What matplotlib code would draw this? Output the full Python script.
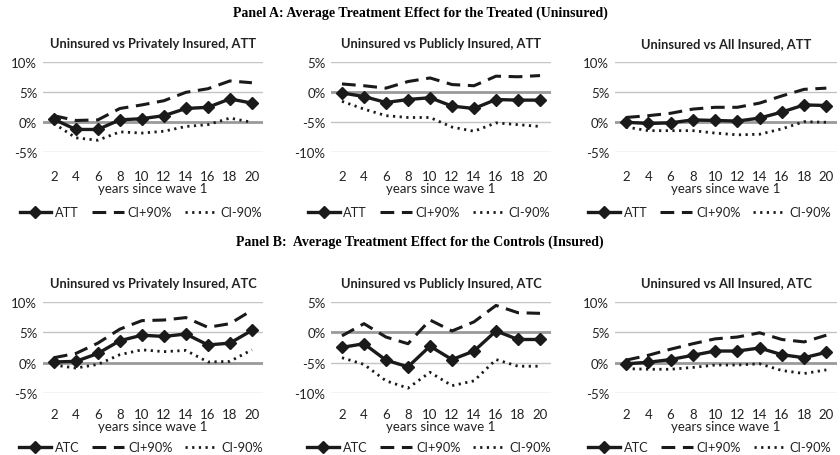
import matplotlib.pyplot as plt
import numpy as np

years = [2, 4, 6, 8, 10, 12, 14, 16, 18, 20]

# Panel A (ATT), values in %
priv_att = [0.5, -1.2, -1.2, 0.4, 0.6, 1.1, 2.3, 2.5, 3.9, 3.2]
priv_att_hi = [1.1, 0.3, 0.4, 2.3, 2.9, 3.6, 5.0, 5.6, 6.9, 6.6]
priv_att_lo = [-0.2, -2.6, -3.0, -1.6, -1.8, -1.5, -0.7, -0.4, 0.7, 0.0]

pub_att = [-0.1, -0.7, -1.7, -1.2, -0.9, -2.3, -2.7, -1.2, -1.3, -1.3]
pub_att_hi = [1.4, 1.1, 0.7, 1.8, 2.4, 1.3, 1.1, 2.7, 2.6, 2.8]
pub_att_lo = [-1.5, -2.8, -3.9, -4.2, -4.2, -5.8, -6.5, -5.1, -5.4, -5.7]

all_att = [0.0, -0.2, -0.1, 0.4, 0.3, 0.2, 0.7, 1.7, 2.9, 2.8]
all_att_hi = [0.8, 1.1, 1.5, 2.2, 2.5, 2.5, 3.2, 4.4, 5.5, 5.7]
all_att_lo = [-0.8, -1.4, -1.4, -1.4, -1.8, -2.1, -2.0, -1.1, 0.1, 0.0]

# Panel B (ATC)
priv_atc = [0.1, 0.2, 1.5, 3.6, 4.5, 4.3, 4.7, 2.9, 3.2, 5.3]
priv_atc_hi = [0.8, 1.5, 3.2, 5.5, 6.9, 7.0, 7.4, 5.8, 6.4, 8.6]
priv_atc_lo = [-0.4, -0.9, -0.3, 1.3, 2.1, 1.8, 2.0, 0.1, 0.2, 2.1]

pub_atc = [-2.5, -1.9, -4.6, -5.7, -2.3, -4.5, -3.1, 0.2, -1.2, -1.2]
pub_atc_hi = [-0.6, 1.4, -0.8, -1.9, 2.0, 0.2, 1.7, 4.4, 3.2, 3.1]
pub_atc_lo = [-4.2, -5.3, -8.0, -9.2, -6.6, -8.8, -8.0, -4.5, -5.6, -5.6]

all_atc = [-0.2, 0.05, 0.5, 1.2, 1.9, 1.9, 2.4, 1.3, 0.8, 1.7]
all_atc_hi = [0.4, 1.2, 2.2, 3.1, 3.9, 4.2, 4.9, 3.8, 3.4, 4.5]
all_atc_lo = [-1.0, -1.1, -1.1, -0.8, -0.4, -0.4, -0.2, -1.3, -1.8, -1.2]

titles_a = ["Uninsured vs Privately Insured, ATT", "Uninsured vs Publicly Insured, ATT",
            "Uninsured vs All Insured, ATT"]
titles_b = ["Uninsured vs Privately Insured, ATC", "Uninsured vs Publicly Insured, ATC",
            "Uninsured vs All Insured, ATC"]

sans = ["Lato", "DejaVu Sans"]
serif = ["Liberation Serif", "DejaVu Serif"]

fig = plt.figure(figsize=(8.4, 4.56), dpi=100)

lefts = [0.051, 0.394, 0.732]
widths = [0.262, 0.262, 0.265]
leg_x = [0.445, 0.445, 0.425]


def draw(ax, est, hi, lo, title, name, ylo, yhi, xpad, legx, legy):
    for v in range(ylo, yhi + 1, 5):
        if v == 0:
            ax.axhline(0, color="#9a9a9a", lw=2.0, zorder=1)
        else:
            ax.axhline(v, color="#c4c4c4", lw=1.0, zorder=1)
    ax.plot(years, est, color="#1a1a1a", lw=2.4, marker="D", ms=6, label=name, zorder=3)
    ax.plot(years, hi, color="#1a1a1a", lw=2.2, ls=(0, (4.5, 2.5)), label="CI+90%", zorder=2)
    ax.plot(years, lo, color="#1a1a1a", lw=2.0, ls=(0, (0.8, 1.6)), label="CI-90%", zorder=2)
    ax.set_xlim(1, 21)
    ax.set_ylim(ylo, yhi)
    ax.set_xticks(years)
    ax.set_yticks(range(ylo, yhi + 1, 5))
    ax.set_yticklabels([f"{v}%" for v in range(ylo, yhi + 1, 5)])
    for s in ax.spines.values():
        s.set_visible(False)
    ax.tick_params(length=0, labelsize=9.5, colors="#222222")
    ax.tick_params(axis="x", pad=xpad)
    ax.tick_params(axis="y", pad=4)
    for t in ax.get_xticklabels() + ax.get_yticklabels():
        t.set_family(sans)
    ax.set_xlabel("years since wave 1", family=sans, fontsize=9.5, labelpad=0, color="#222222")
    ax.set_title(title, family=sans, fontweight="bold", fontsize=9.3, pad=11, color="#222222")
    leg = ax.legend(loc="upper center", bbox_to_anchor=(legx, legy), ncol=3, frameon=False,
                    handlelength=2.5, columnspacing=1.0, handletextpad=0.3,
                    borderaxespad=0, borderpad=0,
                    prop={"family": sans, "size": 9.2})
    for t in leg.get_texts():
        t.set_color("#222222")


panel_a = [(priv_att, priv_att_hi, priv_att_lo, -5, 10),
           (pub_att, pub_att_hi, pub_att_lo, -10, 5),
           (all_att, all_att_hi, all_att_lo, -5, 10)]
panel_b = [(priv_atc, priv_atc_hi, priv_atc_lo, -5, 10),
           (pub_atc, pub_atc_hi, pub_atc_lo, -10, 5),
           (all_atc, all_atc_hi, all_atc_lo, -5, 10)]

for i in range(3):
    e, h, l, a, b = panel_a[i]
    ax = fig.add_axes([lefts[i], 0.664, widths[i], 0.197])
    draw(ax, e, h, l, titles_a[i], "ATT", a, b, 13, leg_x[i], -0.60)
    e, h, l, a, b = panel_b[i]
    ax = fig.add_axes([lefts[i], 0.136, widths[i], 0.200])
    draw(ax, e, h, l, titles_b[i], "ATC", a, b, 11, leg_x[i], -0.53)

fig.text(0.5, 0.972, "Panel A: Average Treatment Effect for the Treated (Uninsured)",
         ha="center", va="center", family=serif, fontweight="bold", fontsize=10)
fig.text(0.5, 0.469, "Panel B:  Average Treatment Effect for the Controls (Insured)",
         ha="center", va="center", family=serif, fontweight="bold", fontsize=10)

fig.savefig("out.png", dpi=100)
